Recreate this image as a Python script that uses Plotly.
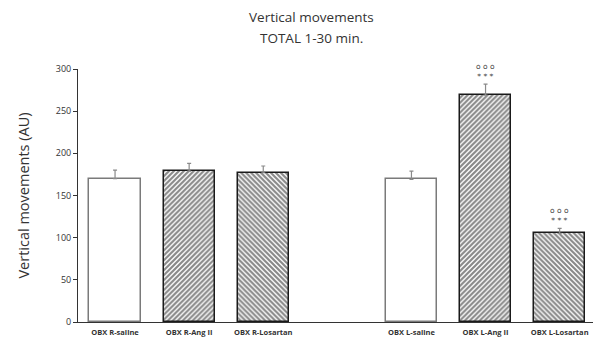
import plotly.graph_objects as go

categories = ["OBX R-saline", "OBX R-Ang II", "OBX R-Losartan",
              "OBX L-saline", "OBX L-Ang II", "OBX L-Losartan"]
slots = [0, 1, 2, 4, 5, 6]  # position slot of each category (slot 3 is a gap)
values = [170, 179, 177, 169, 269, 105]
errors = [10, 9, 8, 10, 13, 6]
significance = ["", "", "", "", "o o o<br>* * *", "o o o<br>* * *"]
patterns = ["", "/", "\\", "", "/", "\\"]
title_lines = ["Vertical movements", "TOTAL 1-30 min."]

line_colors = ["#7a7a7a" if p == "" else "#1a1a1a" for p in patterns]

fig = go.Figure()
fig.add_trace(go.Bar(
    x=slots, y=values, width=0.69,
    marker=dict(
        color="white",
        line=dict(color=line_colors, width=1.5),
        pattern=dict(shape=patterns, fgcolor="#111111", bgcolor="white",
                     size=3.5, solidity=0.62, fillmode="overlay"),
    ),
    error_y=dict(type="data", symmetric=False, array=errors,
                 arrayminus=[0] * len(errors), color="#8a8a8a",
                 thickness=1.2, width=2),
    showlegend=False,
    hoverinfo="skip",
))

for s, v, e, t in zip(slots, values, errors, significance):
    if t:
        fig.add_annotation(x=s, y=v + e, text=t, showarrow=False,
                           yanchor="bottom", yshift=1,
                           font=dict(size=7.5, color="#444", family="DejaVu Sans"),
                           align="center")

for yp, line in zip([1.2055, 1.1225], title_lines):
    fig.add_annotation(xref="paper", yref="paper", x=(311 - 78) / 515, y=yp,
                       text=line, showarrow=False, xanchor="center",
                       yanchor="middle",
                       font=dict(size=13.5, family="Open Sans", color="#333"))

fig.update_layout(
    width=593, height=340,
    margin=dict(l=78, r=0, t=69, b=18),
    paper_bgcolor="white", plot_bgcolor="white",
    font=dict(family="Open Sans", color="#333"),
    bargap=0,
)
fig.update_xaxes(
    range=[-0.5, 6.45], tickmode="array", tickvals=slots,
    ticktext=["<b>%s</b>" % c for c in categories],
    tickfont=dict(size=7.5, family="Open Sans", color="#333"),
    showline=True, linecolor="#333", linewidth=1, ticks="",
    showgrid=False, zeroline=False, ticklabelstandoff=3,
)
fig.update_yaxes(
    range=[0, 300], tickvals=[0, 50, 100, 150, 200, 250, 300],
    tickfont=dict(size=9, family="Open Sans", color="#333"),
    showline=True, linecolor="#333", linewidth=1, ticks="outside",
    ticklen=4, tickcolor="#333", showgrid=False, zeroline=False,
    title=dict(text="Vertical movements (AU)", standoff=22,
               font=dict(size=14.5, family="Open Sans", color="#333")),
)

fig.write_html("out.html", config={"displayModeBar": False},
               post_script="document.body.style.margin='0';document.body.style.overflow='hidden';")
